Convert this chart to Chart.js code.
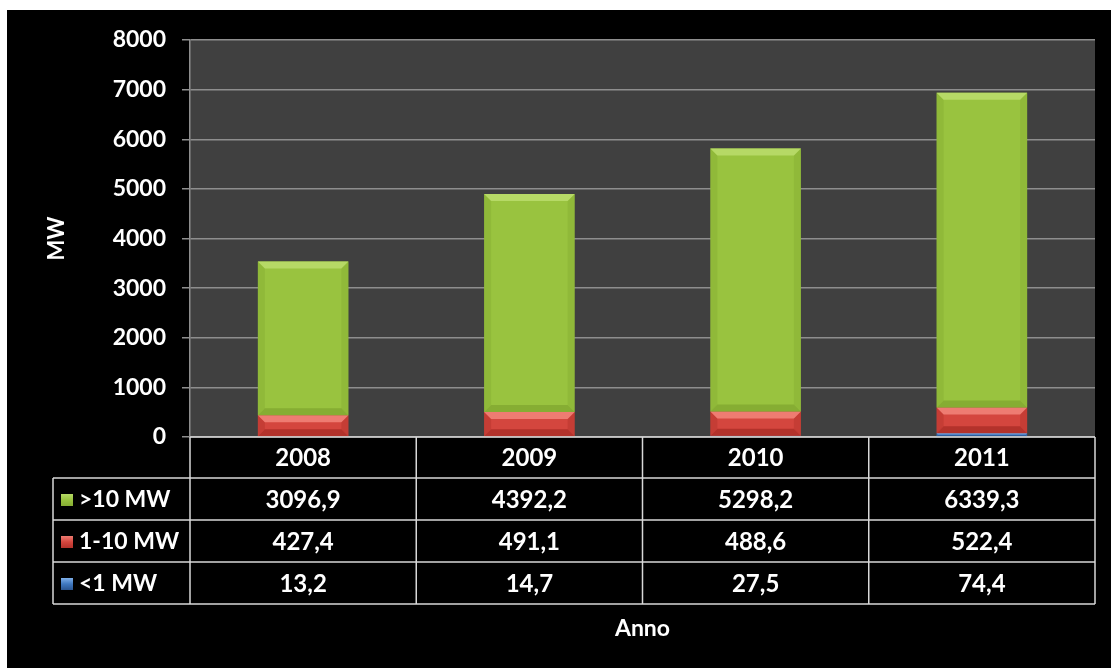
<!DOCTYPE html>
<html>
<head>
<meta charset="utf-8">
<script src="https://cdn.jsdelivr.net/npm/chart.js@4/dist/chart.umd.min.js"></script>
<style>
  html, body { margin: 0; padding: 0; background: #fff; }
  #wrap { width: 1111px; height: 668px; }
</style>
</head>
<body>
<div id="wrap"><canvas id="chart1"></canvas></div>
<script>
// ===== Dati =====
const anni = ['2008', '2009', '2010', '2011'];
const oltre10 = [3096.9, 4392.2, 5298.2, 6339.3];
const da1a10 = [427.4, 491.1, 488.6, 522.4];
const sotto1 = [13.2, 14.7, 27.5, 74.4];
const yTicks = [0, 1000, 2000, 3000, 4000, 5000, 6000, 7000, 8000];

const FONT = 'Lato, "DejaVu Sans", sans-serif';

// colori: base, luce (bordo alto), ombra (bordo basso)
const serie = [
  { label: '<1 MW', data: sotto1, base: '#3f78c0', light: '#7fb0ea', dark: '#2a5590' },
  { label: '1-10 MW', data: da1a10, base: '#d4463e', light: '#ee7c72', dark: '#b3322b' },
  { label: '>10 MW', data: oltre10, base: '#99c33f', light: '#b6d966', dark: '#86ad33' }
];

const fmt = v => v.toFixed(1).replace('.', ',');

// sfondo nero con area grafico grigia
const sfondo = {
  id: 'sfondo',
  beforeDraw(chart) {
    const { ctx, chartArea: a } = chart;
    ctx.save();
    ctx.fillStyle = '#ffffff';
    ctx.fillRect(0, 0, chart.width, chart.height);
    ctx.fillStyle = '#000000';
    ctx.fillRect(7, 10, chart.width - 7, chart.height - 10);
    ctx.fillStyle = '#404040';
    ctx.fillRect(a.left, a.top, a.right - a.left, a.bottom - a.top);
    ctx.restore();
  }
};

// effetto smussato sulle barre
const smusso = {
  id: 'smusso',
  afterDatasetsDraw(chart) {
    const ctx = chart.ctx;
    chart.data.datasets.forEach((ds, di) => {
      const meta = chart.getDatasetMeta(di);
      const s = serie[di];
      meta.data.forEach(bar => {
        const { x, y, base, width } = bar.getProps(['x', 'y', 'base', 'width'], true);
        const l = x - width / 2, r = x + width / 2;
        const t = Math.min(y, base), b = Math.max(y, base);
        const h = b - t;
        if (h < 1) return;
        const e = Math.min(7, h / 3);
        ctx.save();
        // lati
        ctx.globalAlpha = 0.45;
        ctx.fillStyle = s.dark;
        ctx.beginPath();
        ctx.moveTo(l, t); ctx.lineTo(l + e, t + e); ctx.lineTo(l + e, b - e); ctx.lineTo(l, b);
        ctx.closePath(); ctx.fill();
        ctx.beginPath();
        ctx.moveTo(r, t); ctx.lineTo(r - e, t + e); ctx.lineTo(r - e, b - e); ctx.lineTo(r, b);
        ctx.closePath(); ctx.fill();
        ctx.globalAlpha = 1;
        // alto
        ctx.fillStyle = s.light;
        ctx.beginPath();
        ctx.moveTo(l, t); ctx.lineTo(r, t); ctx.lineTo(r - e, t + e); ctx.lineTo(l + e, t + e);
        ctx.closePath(); ctx.fill();
        // basso
        ctx.fillStyle = s.dark;
        ctx.beginPath();
        ctx.moveTo(l, b); ctx.lineTo(r, b); ctx.lineTo(r - e, b - e); ctx.lineTo(l + e, b - e);
        ctx.closePath(); ctx.fill();
        ctx.restore();
      });
    });
  }
};

// tabella dati sotto l'asse x
const tabella = {
  id: 'tabella',
  afterDraw(chart) {
    const { ctx, chartArea: a } = chart;
    const xs = chart.scales.x;
    const half = (xs.getPixelForValue(1) - xs.getPixelForValue(0)) / 2;
    const top = a.bottom, headH = 41, rowH = 42, legL = 53;
    const righe = [serie[2], serie[1], serie[0]];
    const bottom = top + headH + rowH * righe.length;

    ctx.save();
    ctx.strokeStyle = '#d8d8d8';
    ctx.lineWidth = 1.5;
    // linee orizzontali
    ctx.beginPath();
    ctx.moveTo(a.left, top); ctx.lineTo(a.right, top);
    for (let i = 0; i <= righe.length; i++) {
      const yy = top + headH + rowH * i;
      ctx.moveTo(legL, yy); ctx.lineTo(a.right, yy);
    }
    // linee verticali
    ctx.moveTo(legL, top + headH); ctx.lineTo(legL, bottom);
    anni.forEach((_, i) => {
      const xx = xs.getPixelForValue(i) - half;
      ctx.moveTo(xx, top); ctx.lineTo(xx, bottom);
    });
    ctx.moveTo(a.right, top); ctx.lineTo(a.right, bottom);
    ctx.stroke();

    ctx.fillStyle = '#ffffff';
    ctx.font = 'bold 24px ' + FONT;
    ctx.textAlign = 'center';
    ctx.textBaseline = 'middle';
    anni.forEach((anno, i) => {
      ctx.fillText(anno, xs.getPixelForValue(i), top + headH / 2 + 1);
    });
    righe.forEach((s, ri) => {
      const cy = top + headH + rowH * ri + rowH / 2 + 1;
      ctx.font = 'bold 24px ' + FONT;
      s.data.forEach((v, i) => {
        ctx.fillStyle = '#ffffff';
        ctx.textAlign = 'center';
        ctx.fillText(fmt(v), xs.getPixelForValue(i), cy);
      });
      // icona legenda
      const g = ctx.createLinearGradient(0, cy - 6, 0, cy + 6);
      g.addColorStop(0, s.light);
      g.addColorStop(0.5, s.base);
      g.addColorStop(1, s.dark);
      ctx.fillStyle = g;
      ctx.fillRect(61, cy - 6, 12, 12);
      ctx.fillStyle = '#ffffff';
      ctx.textAlign = 'left';
      ctx.font = 'bold 23px ' + FONT;
      ctx.fillText(s.label, 79, cy);
    });
    ctx.restore();
  }
};

new Chart(document.getElementById('chart1').getContext('2d'), {
  type: 'bar',
  data: {
    labels: anni,
    datasets: serie.map(s => ({
      label: s.label,
      data: s.data,
      backgroundColor: s.base,
      borderWidth: 0,
      barPercentage: 0.4,
      categoryPercentage: 1
    }))
  },
  options: {
    responsive: true,
    maintainAspectRatio: false,
    animation: false,
    layout: { padding: { top: 40, right: 16, left: 0, bottom: 0 } },
    plugins: { legend: { display: false }, tooltip: { enabled: false }, title: { display: false } },
    scales: {
      x: {
        stacked: true,
        grid: { display: false },
        border: { display: false },
        ticks: { display: false },
        title: { display: true, text: 'Anno', color: '#ffffff', font: { family: FONT, size: 23, weight: 'bold' }, padding: { top: 0, bottom: 26 } },
        afterFit(scale) { scale.height = 231; }
      },
      y: {
        stacked: true,
        min: 0,
        max: 8000,
        afterBuildTicks(scale) { scale.ticks = yTicks.map(v => ({ value: v })); },
        grid: { color: '#8e8e8e', lineWidth: 1.5, tickLength: 8, drawOnChartArea: true },
        border: { display: true, color: '#8e8e8e', width: 1.5 },
        ticks: { color: '#ffffff', padding: 16, font: { family: FONT, size: 23, weight: 'bold' }, callback: v => String(v) },
        title: { display: true, text: 'MW', color: '#ffffff', font: { family: FONT, size: 22, weight: 'bold' }, padding: { top: 44, bottom: 0 } },
        afterFit(scale) { scale.width = 190; }
      }
    }
  },
  plugins: [sfondo, smusso, tabella]
});
</script>
</body>
</html>
